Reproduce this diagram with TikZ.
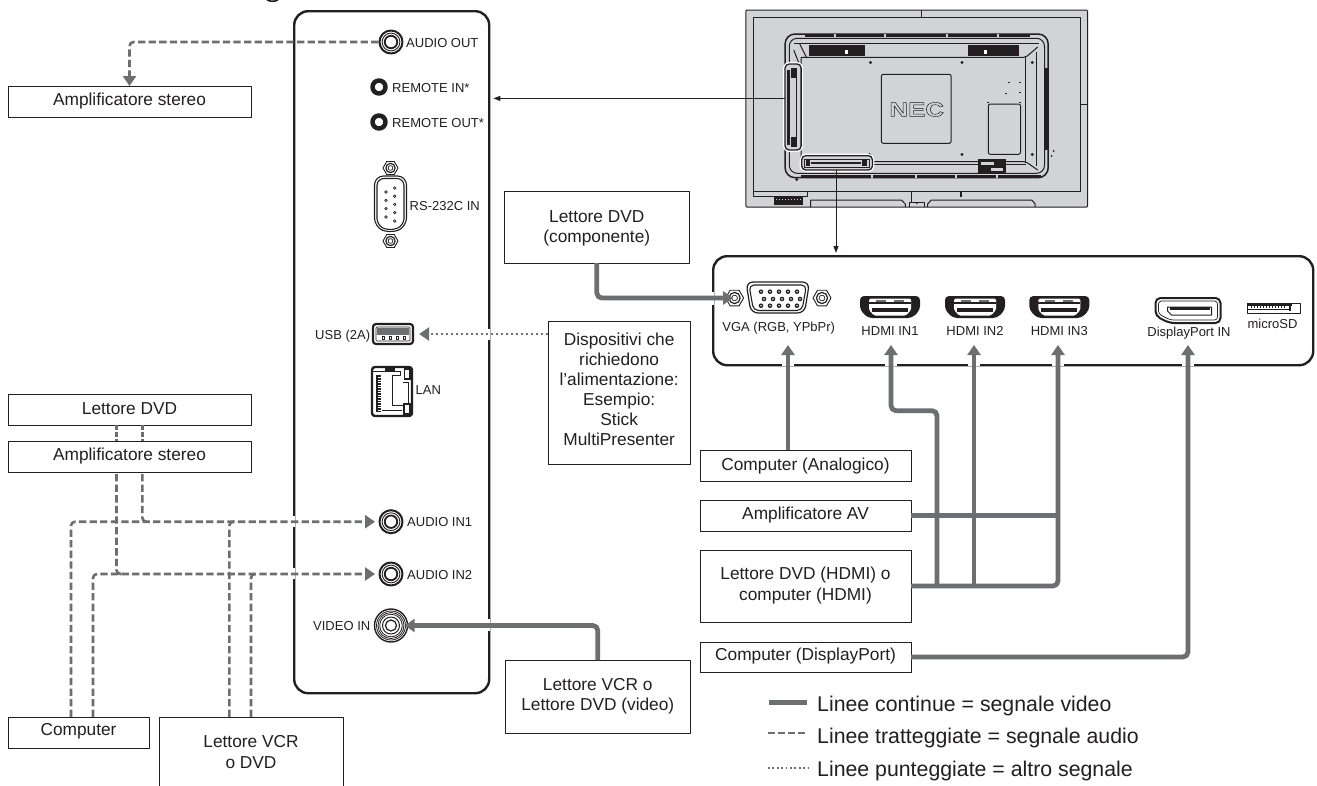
\documentclass[tikz,border=0pt]{standalone}
\usepackage{fontspec}
\setmainfont{Liberation Sans}
\usetikzlibrary{arrows.meta,shapes.geometric,calc}
\definecolor{ink}{HTML}{231F20}
\definecolor{wire}{HTML}{6D6E71}
\definecolor{tvgrey}{HTML}{D1D3D4}
\tikzset{
  boxs/.style={draw=ink,line width=0.9pt,fill=white,inner sep=0pt,outer sep=0pt,anchor=north west,text=ink},
  panelbox/.style={draw=ink,line width=2.4pt,rounded corners=14pt,inner sep=0pt,anchor=north west},
  portlab/.style={inner sep=0pt,text=ink,font=\fontsize{13}{15}\selectfont},
  legtext/.style={inner sep=0pt,anchor=base west,text=ink,font=\fontsize{21.3}{25}\selectfont},
  vidline/.style={draw=wire,line width=4.8pt,rounded corners=5pt},
  audline/.style={draw=wire,line width=2.6pt,dash pattern=on 7.3pt off 3.3pt,rounded corners=4pt},
  dotline/.style={draw=wire,line width=2.4pt,dash pattern=on 2pt off 3pt},
  bigtip/.style={-{Triangle[length=10pt,width=13pt]}},
  thintip/.style={draw=ink,line width=1pt,-{Triangle[length=7pt,width=5pt]}},
  cutgap/.style={draw=white,line width=4pt},
  tvline/.style={draw=ink,line width=1pt},
}
\newcommand\bx[8][21]{\node[boxs,minimum width={(#5-#3)*1pt},minimum height={(#6-#4)*1pt}] (#2) at (#3,#4)
  {\fontsize{17.3}{#1}\selectfont\raisebox{#7pt}[\height][\depth]{\begin{tabular}{@{}c@{}}#8\end{tabular}}};}
\newcommand\jack[4]{\node[circle,draw=ink,line width=2pt,fill=white,minimum size=#4*2pt-1pt,inner sep=0pt] (#1) at (#2,#3) {};
  \draw[ink,line width=.9pt] (#2,#3) circle ({#4*0.74});
  \draw[ink,line width=1.8pt] (#2,#3) circle ({#4*0.52});}
\newcommand\hdmi[1]{\begin{scope}[shift={(#1,0)}]
  \fill[ink,rounded corners=4pt] (-30,296)--(30,296)--(30,310)--(22,318)--(-22,318)--(-30,310)--cycle;
  \fill[white,rounded corners=1.5pt] (-21,298.5)--(21,298.5)--(21,310)--(16,315.5)--(-16,315.5)--(-21,310)--cycle;
  \draw[ink,line width=1.1pt] (-21,303) -- (21,303);
  \fill[wire] (-14,299.5) rectangle (-4,302);
  \fill[wire] (4,299.5) rectangle (14,302);
  \fill[ink] (-18,308) rectangle (18,312);
  \fill[white] (-15,305) rectangle (15,308);
\end{scope}}
\newcommand\screw[3]{\node[regular polygon,regular polygon sides=6,draw=ink,line width=.9pt,fill=white,minimum size=#3*2pt,inner sep=0pt] (#1) at (#2) {};
  \draw[ink,line width=1.2pt] (#2) circle ({#3*.62});
  \draw[ink,line width=.7pt] (#2) circle ({#3*.32});}
\begin{document}
\begin{tikzpicture}[x=1pt,y=-1pt,line join=round]
\useasboundingbox (0,0) rectangle (1317,785);
\fill[white] (0,0) rectangle (1317,785);
\clip (0,0) rectangle (1317,785);

% cut-off heading descender
\draw[ink,line width=1.6pt] (267,-.2) .. controls (270,1.8) and (275,1.8) .. (278,-.2);

% panels
\node[panelbox,minimum width=195pt,minimum height=682pt] (leftpanel) at (293,10) {};
\node[panelbox,minimum width=600pt,minimum height=109pt] (rightpanel) at (712,255) {};
\draw[cutgap] (293,516) -- (293,527);
\draw[cutgap] (293,568) -- (293,579);
\draw[cutgap] (488,328.5) -- (488,339.5);
\draw[cutgap] (488,619) -- (488,631);
\draw[cutgap] (712,291.5) -- (712,304.5);
\foreach \gx in {788,891,974,1058,1188} \draw[cutgap] (\gx-6,364) -- (\gx+6,364);

% monitor rear view
\begin{scope}[shift={(3,0)},xscale=.9959]
\draw[tvline,fill=tvgrey,rounded corners=1pt] (746,10) rectangle (1089,207);
\draw[tvline] (753.3,17.3) -- (1082.3,17.3) -- (1082.3,191.7) -- (753.3,191.7) -- cycle;
\draw[tvline] (922.5,10) -- (922.5,17.3);
\draw[tvline] (1082.3,104) -- (1089,104);
\draw[tvline,line width=1.5pt,rounded corners=10pt] (785.3,34) rectangle (1049.5,177.7);
\draw[tvline,rounded corners=8pt] (789.5,38.3) rectangle (1045.8,173.3);
\draw[tvline,rounded corners=2pt] (801.4,57.3) -- (1027,57.3) -- (1039,47) (801.4,57.3) -- (801.4,161.7) -- (1027,161.7) -- (1039,170);
\draw[tvline] (1027,57.3) -- (1027,161.7);
\draw[tvline] (1038,52) -- (1038,166);
\draw[tvline] (794,43) -- (1040,43);
\draw[tvline] (803,164.5) -- (1027,164.5);
\draw[tvline] (794,50) -- (801.4,69);
\draw[tvline] (800,44) -- (807,58);
\fill[ink] (805,34) rectangle (1031,36.5);
\fill[ink] (801,175.3) rectangle (1042,177.7);
\foreach \tx in {835,886,948,999} \fill[tvgrey] (\tx-1,34) rectangle (\tx+1,37);
\foreach \tx in {873,917,957,998} \fill[tvgrey] (\tx-1,175) rectangle (\tx+1,178);
\fill[ink] (809,45) rectangle (865.5,56);
\fill[ink] (969,45) rectangle (1020.6,56);
\fill[white] (845,49.5) rectangle (848,54);
\fill[white] (985,49.5) rectangle (988,54);
\foreach \sx/\sy in {871/62.5,963/62.5,1033.5/62.5,1033.5/154.5,963/154.5,870/154.5} \fill[ink] (\sx,\sy) circle (1.6);
\draw[tvline,rounded corners=2pt] (882,74.3) rectangle (952,143.3);
\node[inner sep=0pt,text=ink,font=\bfseries\fontsize{20}{20}\selectfont,xscale=1.3,transform shape] (neclogo) at (917.5,109.5)
  {\special{pdf:code 1 Tr 0.45 w}NEC\special{pdf:code 0 Tr}};
\draw[tvline,rounded corners=2pt] (989.4,104) rectangle (1021.7,154.3);
\foreach \ax/\ay in {1009/82,1020/82,1006/93,1020/92,988/102,1020/102} \fill[ink] (\ax,\ay) rectangle ++(1.8,1.2);
\fill[ink] (979,159.3) rectangle (1006.7,173.3);
\fill[tvgrey] (982,162) rectangle (995,165);
\fill[tvgrey] (992,168) rectangle (1004,171);
\fill[ink] (1046.5,68) rectangle (1049.5,150);
\fill[ink] (1055,151) circle (1);
\fill[ink] (1053,156) circle (1);
\fill[ink] (797,179.5) circle (1.6);
\draw[white,line width=4pt,rounded corners=4pt] (785.3,64) rectangle (801.4,150);
\draw[ink,line width=1.3pt,rounded corners=4pt,fill=tvgrey] (785.3,64) rectangle (801.4,150);
\fill[ink] (791,68) rectangle (797.7,78);
\fill[ink] (791,137) rectangle (797.7,147);
\fill[ink] (787,70) rectangle (790,145);
\draw[ink,line width=.7pt] (797,78) -- (797,137);
\draw[white,line width=4pt,rounded corners=4pt] (802,155.7) rectangle (873,170);
\draw[ink,line width=1.3pt,rounded corners=4pt,fill=tvgrey] (802,155.7) rectangle (873,170);
\draw[ink,line width=1pt] (805,159) rectangle (870,167);
\draw[ink,line width=1.4pt] (811,163) -- (862,163);
\fill[ink] (806,160) rectangle (810,166);
\fill[ink] (863,160) rectangle (868,166);
\draw[tvline] (753.3,191.7) -- (753.3,196) -- (808,196) -- (808,191.7);
\fill[ink] (774,197) rectangle (803,205);
\foreach \dx in {776,779,...,800} \fill[tvgrey] (\dx,199) rectangle ++(1.4,1.2);
\draw[tvline] (811,207) -- (811,200) -- (902,200) -- (906,204) -- (906,207);
\draw[tvline] (928.5,207) -- (928.5,204) -- (932,200) -- (1033,200) -- (1036.4,204) -- (1036.4,207);
\draw[tvline] (910.5,207) -- (910.5,202) -- (925.5,202) -- (925.5,207);
\draw[tvline] (912,191.7) -- (912,202);
\fill[ink] (917.5,203) circle (1.2);
\fill[ink] (960.5,192) rectangle (962.5,197);
\end{scope}

% left panel ports
\jack{jao}{391}{42}{12}
\node[portlab,anchor=base west] (laout) at (406,47) {AUDIO OUT};
\node[circle,draw=ink,line width=4.5pt,fill=white,minimum size=13pt,inner sep=0pt] (jrin) at (379,87) {};
\node[portlab,anchor=base west] (lrin) at (392,92) {REMOTE IN*};
\node[circle,draw=ink,line width=4.5pt,fill=white,minimum size=13pt,inner sep=0pt] (jrout) at (379,122) {};
\node[portlab,anchor=base west] (lrout) at (392,127) {REMOTE OUT*};
% RS-232C
\screw{stop}{390.5,168}{7.5}
\screw{sbot}{390.5,241}{7.5}
\draw[ink,line width=1.1pt,fill=white,rounded corners=9pt] (374.5,176) -- (406.5,176) -- (406.5,227) -- (390,233.5) -- (374.5,227) -- cycle;
\draw[ink,line width=1.1pt,rounded corners=7pt] (377,178.5) -- (404,178.5) -- (404,225.5) -- (390,231) -- (377,225.5) -- cycle;
\foreach \py in {192,200.3,208.6,217} \draw[ink,line width=.7pt] (386,\py) circle (1.3);
\foreach \py in {188,196.2,204.4,212.6,221} \draw[ink,line width=.7pt] (394.7,\py) circle (1.3);
\node[portlab,anchor=base west] (lrs) at (409.5,210) {RS-232C IN};
% USB
\node[portlab,anchor=base west] (lusb) at (315,339) {USB (2A)};
\node[draw=ink,line width=2.2pt,rounded corners=3pt,fill=white,minimum width=40pt,minimum height=20pt,inner sep=0pt] (jusb) at (393,334) {};
\draw[ink,line width=.7pt,rounded corners=1pt] (376,327) rectangle (410,341);
\fill[wire] (377,328) rectangle (409,335);
\foreach \ux in {382,389,396,403} \draw[ink,line width=.6pt] (\ux,336) rectangle ++(2,3);
% LAN
\node[draw=ink,line width=2.4pt,rounded corners=3pt,fill=white,minimum width=40pt,minimum height=49pt,inner sep=0pt] (jlan) at (392,391.5) {};
\fill[ink] (376,375) rectangle (381,412);
\foreach \ly in {377,379.5,...,410} \fill[white] (377.5,\ly) rectangle (381,\ly+1);
\draw[ink,line width=.9pt] (373,371) -- (400,371) -- (400,375) -- (392,375) -- (392,405) -- (408,405);
\fill[ink] (385,368) rectangle (395,371);
\fill[ink] (404,368) rectangle (411,380);
\fill[white] (405,369.5) rectangle (409,378);
\fill[ink] (403,403) rectangle (411,415);
\fill[white] (405,405) rectangle (409,413);
\draw[ink,line width=.9pt] (403,382) -- (408,382) -- (408,403);
\draw[ink,line width=.9pt] (382,410) -- (402,410);
\node[portlab,anchor=base west] (llan) at (415.5,394) {LAN};
% audio in, video in
\jack{jin1}{391}{521.7}{12}
\node[portlab,anchor=base west] (lin1) at (407,526.7) {AUDIO IN1};
\jack{jin2}{391}{574}{12}
\node[portlab,anchor=base west] (lin2) at (407,579.4) {AUDIO IN2};
\node[circle,draw=ink,line width=1.4pt,fill=white,minimum size=33pt,inner sep=0pt] (jvid) at (391,625.5) {};
\foreach \vr in {14.5,13,11.3} \draw[ink,line width=.8pt] (jvid.center) circle (\vr);
\draw[ink,line width=1pt] (jvid.center) circle (8.5);
\draw[ink,line width=1.2pt] (jvid.center) circle (5.5);
\node[portlab,anchor=base west] (lvid) at (313,630.7) {VIDEO IN};

% right panel ports
\draw[ink,line width=1.2pt,fill=white,rounded corners=7pt] (746,282) -- (809.5,282) -- (804.5,313) -- (751,313) -- cycle;
\draw[ink,line width=1.1pt,rounded corners=5pt] (749,285) -- (806.5,285) -- (802,310.5) -- (753.5,310.5) -- cycle;
\foreach \vx in {761,770,779,788,797} {\fill[ink] (\vx,291.7) circle (2.3); \fill[white] (\vx,291.7) circle (.8);}
\foreach \vx in {764,773,782,791,800} {\fill[ink] (\vx,299) circle (2.3); \fill[white] (\vx,299) circle (.8);}
\foreach \vx in {761,770,779,788,797} {\fill[ink] (\vx,305.7) circle (2.3); \fill[white] (\vx,305.7) circle (.8);}
\screw{sleft}{734.6,298}{9}
\screw{sright}{822,298}{9}
\node[portlab,anchor=base] (lvga) at (778.7,331) {VGA (RGB, YPbPr)};
\hdmi{890}\hdmi{975}\hdmi{1059.3}
\node[portlab,anchor=base] (lh1) at (890,335.7) {HDMI IN1};
\node[portlab,anchor=base] (lh2) at (975,335.7) {HDMI IN2};
\node[portlab,anchor=base] (lh3) at (1059.3,335.7) {HDMI IN3};
% DisplayPort
\draw[ink,line width=2pt,rounded corners=5pt,fill=white] (1155.5,298) -- (1220.5,298) -- (1220.5,323) -- (1169.5,323) -- (1155.5,316) -- cycle;
\draw[ink,line width=.7pt,rounded corners=3pt] (1158.5,301) -- (1217.5,301) -- (1217.5,320) -- (1170.5,320) -- (1158.5,314) -- cycle;
\draw[ink,line width=1pt] (1167.5,307) -- (1211.5,307) -- (1211.5,315) -- (1171.5,315) -- (1167.5,311) -- cycle;
\fill[ink] (1169.5,307) rectangle (1209.5,309.5);
\node[portlab,anchor=base] (ldp) at (1189,336) {DisplayPort IN};
% microSD
\draw[ink,line width=.9pt] (1247,303) rectangle (1300,313);
\fill[ink] (1247,303) rectangle (1292,305.5);
\foreach \mx in {1251,1254,...,1284} \fill[ink] (\mx,305.5) rectangle ++(1.2,2);
\fill[ink] (1289,303) rectangle (1291,311);
\draw[ink] (1247,309) -- (1289,309);
\node[portlab,anchor=base] (lsd) at (1272.5,328) {microSD};

% device boxes
\bx{ampa}{8}{86}{251}{117}{0}{Amplificatore stereo}
\bx{dvdl}{8}{394}{251}{425}{-.5}{Lettore DVD}
\bx{ampb}{8}{441}{251}{472}{.4}{Amplificatore stereo}
\bx{comp}{8}{717}{149}{748}{1}{Computer}
\bx{vcrd}{159}{717}{343}{795}{2.4}{Lettore VCR\\o DVD}
\bx[20]{dvdc}{504.3}{191}{689.3}{263}{-1.2}{Lettore DVD\\(componente)}
\bx[20]{devs}{548.3}{321}{690}{464}{1.5}{Dispositivi che\\richiedono\\l’alimentazione:\\Esempio:\\Stick\\MultiPresenter}
\bx{canal}{700}{450}{911}{481}{-1}{Computer (Analogico)}
\bx{aav}{700}{500}{911}{531}{0}{Amplificatore AV}
\bx{dhdmi}{700}{550}{911}{622}{0}{Lettore DVD (HDMI) o\\computer (HDMI)}
\bx{cdp}{700}{642}{911}{672}{.7}{Computer (DisplayPort)}
\bx[20]{vcrb}{505.6}{660}{690}{733}{0}{Lettore VCR o\\Lettore DVD (video)}

% free ends
\coordinate (tvga) at (788,345);
\coordinate (th1) at (891,345);
\coordinate (th2) at (974,345);
\coordinate (th3) at (1058,345);
\coordinate (tdp) at (1188,345);
\coordinate (kh1) at (891,410.7);
\coordinate (bh1) at (937,586);
\coordinate (bh2) at (974,586);
\coordinate (bh3) at (1058,515.5);
\coordinate (ja1) at (148,521.7);
\coordinate (ja2) at (122,574);
\coordinate (jv1) at (236,521.7);
\coordinate (jv2) at (258,574);
\coordinate (tvl) at (784.5,98.4);
\coordinate (tvb) at (836,170);
\coordinate (rin) at (493.3,98.4);
\coordinate (rbt) at (836,253);

% video connectors
\draw[vidline,bigtip] ([xshift=88pt]canal.north west) -- (tvga);
\draw[vidline,bigtip] (dhdmi.east) -| (th3);
\draw[vidline,bigtip] (bh1) |- (kh1) -- (th1);
\draw[vidline,bigtip] (bh2) -- (th2);
\draw[vidline] (aav.east) -- (bh3);
\draw[vidline,bigtip] (cdp.east) -| (tdp);
\draw[vidline,bigtip,shorten >=1.5pt] (dvdc.south) |- (sleft.center);
\draw[vidline,bigtip,shorten >=-3.5pt] (vcrb.north) |- (jvid.east);
% audio connectors
\draw[audline,bigtip] (jao.west) -| (ampa.north);
\draw[audline,dash pattern=on 5pt off 2pt] ([xshift=-13pt]dvdl.south) -- ([xshift=-13pt]ampb.north);
\draw[audline,dash pattern=on 5pt off 2pt] ([xshift=12.8pt]dvdl.south) -- ([xshift=12.8pt]ampb.north);
\draw[audline,bigtip,shorten >=3.5pt] ([xshift=63pt]comp.north west) |- (jin1.west);
\draw[audline,bigtip,shorten >=3.5pt] ([xshift=85pt]comp.north west) |- (jin2.west);
\draw[audline] ([xshift=-13pt,yshift=-2pt]ampb.south) |- (ja2);
\draw[audline] ([xshift=12.8pt,yshift=-2pt]ampb.south) |- (ja1);
\draw[audline] ([xshift=70.3pt]vcrd.north west) |- (jv1);
\draw[audline] ([xshift=92pt]vcrd.north west) |- (jv2);
% other connectors
\draw[dotline,bigtip] (devs.west |- jusb) -- ([xshift=5pt]jusb.east);
\draw[thintip] (tvl) -- (rin);
\draw[thintip] (tvb) -- (rbt);

% legend
\coordinate (l1a) at (769,702.7); \coordinate (l1b) at (807,702.7);
\coordinate (l2a) at (768,733);   \coordinate (l2b) at (808,733);
\coordinate (l3a) at (768,768);   \coordinate (l3b) at (808,768);
\draw[wire,line width=4.6pt] (l1a) -- (l1b);
\draw[wire,line width=1.7pt,dash pattern=on 7pt off 3pt] (l2a) -- (l2b);
\draw[wire,line width=1.7pt,dash pattern=on 1.8pt off 2.6pt] (l3a) -- (l3b);
\node[legtext] (t1) at (817,711) {Linee continue = segnale video};
\node[legtext] (t2) at (817,743) {Linee tratteggiate = segnale audio};
\node[legtext] (t3) at (817,776) {Linee punteggiate = altro segnale};
\end{tikzpicture}
\end{document}
